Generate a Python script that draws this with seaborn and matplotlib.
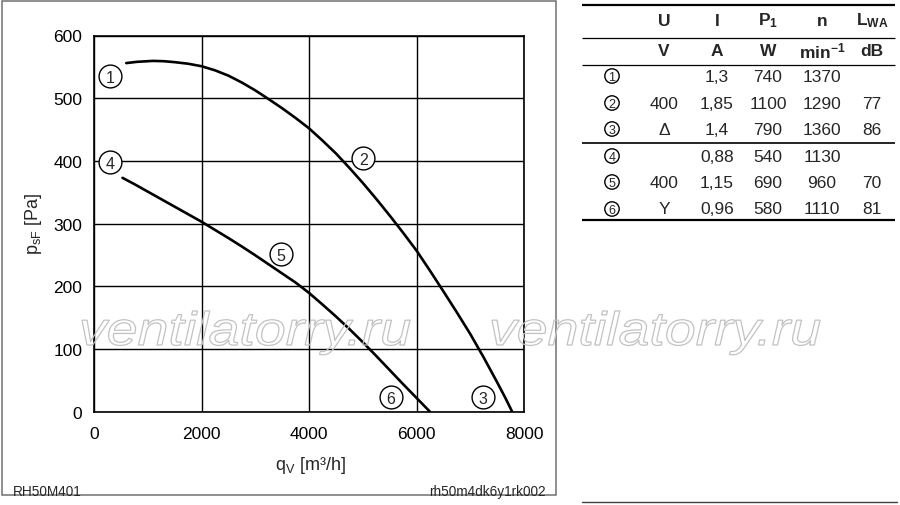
import matplotlib
matplotlib.use('Agg')
import matplotlib.pyplot as plt
import seaborn as sns
from matplotlib.textpath import TextPath
from matplotlib.font_manager import FontProperties
from matplotlib.patches import PathPatch, Circle, Rectangle
from matplotlib.transforms import Affine2D

# --- data ---
# upper curve (1 -> 2 -> 3), delta connection
Q_DELTA = [600, 800, 1100, 1300, 1500, 1750, 2000, 2250, 2500, 2750, 3000,
           3250, 3500, 3750, 4000, 4250, 4500, 4750, 5000, 5250, 5500,
           5750, 6000, 6250, 6500, 6750, 7000, 7250, 7500, 7650, 7780]
P_DELTA = [556, 558, 559.5, 559, 557.5, 555, 551, 544.5, 536, 525, 512.5,
           498.5, 484, 468.5, 452, 432.5, 412, 389, 365, 339.5, 313,
           285.5, 257, 225, 192, 158.5, 124, 86.5, 47, 22.5, 0]
# lower curve (4 -> 5 -> 6), star connection
Q_STAR = [530, 750, 1000, 1250, 1500, 1750, 2000, 2250, 2500, 2750, 3000,
          3250, 3500, 3750, 4000, 4250, 4500, 4750, 5000, 5250, 5500,
          5750, 6000, 6250]
P_STAR = [373, 363, 351, 339, 327, 315, 303, 290, 277, 263.5, 249.5,
          235, 220.5, 206, 189.5, 171, 152, 132, 111, 89, 66.5,
          44, 22, 0]

# operating point markers
MARK_IDS = ['1', '2', '3', '4', '5', '6']
MARK_Q = [300, 5007, 7229, 300, 3482, 5517]
MARK_P = [535, 405, 24, 398, 251, 24]

X_TICKS = [0, 2000, 4000, 6000, 8000]
Y_TICKS = [0, 100, 200, 300, 400, 500, 600]

# table
HEAD_1 = ['U', 'I', r'$\mathbf{P_1}$', 'n', r'$\mathbf{L_{WA}}$']
HEAD_2 = ['V', 'A', 'W', r'$\mathbf{min^{-1}}$', 'dB']
COL_U = ['', '400', 'Δ', '', '400', 'Y']
COL_I = ['1,3', '1,85', '1,4', '0,88', '1,15', '0,96']
COL_P1 = ['740', '1100', '790', '540', '690', '580']
COL_N = ['1370', '1290', '1360', '1130', '960', '1110']
COL_LWA = ['', '77', '86', '', '70', '81']

WATERMARK = 'ventilatorry.ru'

sns.set_theme(style='white')
plt.rcParams['font.family'] = ['Liberation Sans', 'DejaVu Sans']
plt.rcParams['mathtext.fontset'] = 'custom'
plt.rcParams['mathtext.rm'] = 'Liberation Sans'
plt.rcParams['mathtext.it'] = 'Liberation Sans:italic'
plt.rcParams['mathtext.bf'] = 'Liberation Sans:bold'
plt.rcParams['mathtext.sf'] = 'Liberation Sans'

fig = plt.figure(figsize=(9, 5.06), dpi=100)
fig.patch.set_facecolor('white')

# main chart, placed in pixels of the 900x506 canvas
ax = fig.add_axes([94 / 900, 1 - 412.7 / 506, 430 / 900, 376.2 / 506])
ax.set_xlim(0, 8000)
ax.set_ylim(0, 600)
ax.set_xticks(X_TICKS)
ax.set_yticks(Y_TICKS)
ax.grid(True, color='black', lw=1.0)
ax.set_axisbelow(True)
for sp in ax.spines.values():
    sp.set_color('black')
    sp.set_linewidth(1.2)
ax.tick_params(direction='out', length=4.5, width=1.0, color='black',
               labelsize=12.5, labelcolor='black')
ax.tick_params(axis='x', pad=6)
ax.tick_params(axis='y', pad=4)

sns.lineplot(x=Q_DELTA, y=P_DELTA, color='black', lw=1.9, ax=ax, zorder=3)
sns.lineplot(x=Q_STAR, y=P_STAR, color='black', lw=1.9, ax=ax, zorder=3)
sns.scatterplot(x=MARK_Q, y=MARK_P, s=270, color='white', edgecolor='black',
                linewidth=1.0, ax=ax, zorder=4, legend=False)
for q, p, t in zip(MARK_Q, MARK_P, MARK_IDS):
    ax.text(q, p, t, ha='center', va='center_baseline', fontsize=11.5, zorder=5)
ax.set_xlabel('')
ax.set_ylabel('')

# overlay in pixel coordinates for frame, labels, table, watermark
over = fig.add_axes([0, 0, 1, 1], zorder=10)
over.set_xlim(0, 900)
over.set_ylim(506, 0)
over.axis('off')
over.patch.set_visible(False)

over.add_patch(Rectangle((2, 2), 554, 494, fill=False, ec='#707070', lw=1.1))
over.plot([582, 897], [503, 503], color='#404040', lw=1.0)

over.text(33, 224, r'$\mathrm{p_{sF}}$ [Pa]', rotation=90, ha='center',
          va='center', fontsize=13)
over.text(310, 466, r'$\mathrm{q_V}$ [m³/h]', ha='center', va='center', fontsize=13)
over.text(13, 492, 'RH50M401', ha='left', va='center', fontsize=9.8)
over.text(546, 492, 'rh50m4dk6y1rk002', ha='right', va='center', fontsize=9.8)

# table
col_x = [612, 664, 717, 768, 822, 872]
row_y = [77, 104, 130, 157, 183, 210]
for x, h1, h2 in zip(col_x[1:], HEAD_1, HEAD_2):
    over.text(x, 21, h1, ha='center', va='center', fontsize=12.5, fontweight='bold')
    over.text(x, 51, h2, ha='center', va='center', fontsize=12.5, fontweight='bold')
for i, y in enumerate(row_y):
    over.add_patch(Circle((col_x[0], y), 7.2, fc='white', ec='black', lw=1.0))
    over.text(col_x[0], y + 0.5, MARK_IDS[i], ha='center', va='center', fontsize=9)
    for x, col in zip(col_x[1:], [COL_U, COL_I, COL_P1, COL_N, COL_LWA]):
        over.text(x, y, col[i], ha='center', va='center', fontsize=12.5)
for y, lw in [(6, 1.6), (39, 0.9), (66, 0.9), (144, 1.2), (221, 1.6)]:
    over.plot([582, 895], [y, y], color='black', lw=lw, solid_capstyle='butt')

# hollow watermark
fp = FontProperties(family='Liberation Sans', style='italic')
tp = TextPath((0, 0), WATERMARK, size=100, prop=fp)
ext = tp.get_extents()
sx = 328 / ext.width
sy = 47 / 100
for x0 in [82, 492]:
    tr = Affine2D().translate(-ext.x0, 0).scale(sx, -sy).translate(x0, 346)
    over.add_patch(PathPatch(tr.transform_path(tp), fc='none', ec='#c2c2c2', lw=0.9))

fig.savefig('out.png', dpi=100, facecolor='white')
